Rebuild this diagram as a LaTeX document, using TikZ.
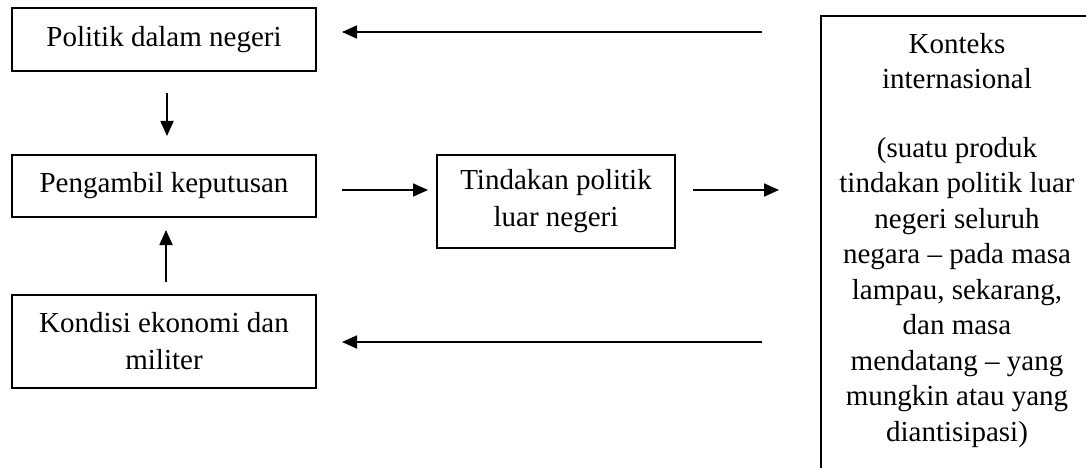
\documentclass[tikz,border=0pt]{standalone}
\usepackage{fontspec}
\setmainfont{Liberation Serif}
\usetikzlibrary{arrows.meta}
\begin{document}
\begin{tikzpicture}[x=1pt,y=-1pt,
  box/.style={draw=black, line width=1.8pt, align=center, inner sep=0pt,
    font=\fontsize{29}{37}\selectfont},
  arr/.style={line width=1.8pt, -{Triangle[length=15pt,width=13pt]}},
  txt/.style={align=center, inner sep=0pt, font=\fontsize{29}{35.5}\selectfont}]
\useasboundingbox (0,0) rectangle (1086,468);
\clip (0,0) rectangle (1086,468);
\fill[white] (0,0) rectangle (1086,468);
% boxes
\node[box, minimum width=304pt, minimum height=63pt] (pol) at (164,39.5) {Politik dalam negeri};
\node[box, minimum width=304pt, minimum height=62pt] (pen) at (164,186) {Pengambil keputusan};
\node[box, minimum width=238pt, minimum height=93pt] (tin) at (556,201.5) {Tindakan politik\\luar negeri};
\node[box, minimum width=304pt, minimum height=93pt] (kon) at (164,341.5) {Kondisi ekonomi dan\\militer};
\node[draw=black, line width=1.8pt, anchor=north west, minimum width=290pt, minimum height=480pt, inner sep=0pt] (ctx) at (820,15) {};
\node[txt, anchor=north] (ctxt) at (957,33) {Konteks\\internasional\\[33pt](suatu produk\\tindakan politik luar\\negeri seluruh\\negara -- pada masa\\lampau, sekarang,\\dan masa\\mendatang -- yang\\mungkin atau yang\\diantisipasi)};
% arrow end points
\coordinate (a1s) at (762,32);
\coordinate (a1e) at (342,32);
\coordinate (a2s) at (167,93);
\coordinate (a2e) at (167,136);
\coordinate (a3s) at (166,282);
\coordinate (a3e) at (166,230);
\coordinate (a4s) at (342,190);
\coordinate (a4e) at (428,190);
\coordinate (a5s) at (693,190);
\coordinate (a5e) at (779,190);
\coordinate (a6s) at (762,342);
\coordinate (a6e) at (342,342);
% connectors
\draw[arr] (a1s) -- (a1e);
\draw[arr] (a2s) -- (a2e);
\draw[arr] (a3s) -- (a3e);
\draw[arr] (a4s) -- (a4e);
\draw[arr] (a5s) -- (a5e);
\draw[arr] (a6s) -- (a6e);
\end{tikzpicture}
\end{document}
